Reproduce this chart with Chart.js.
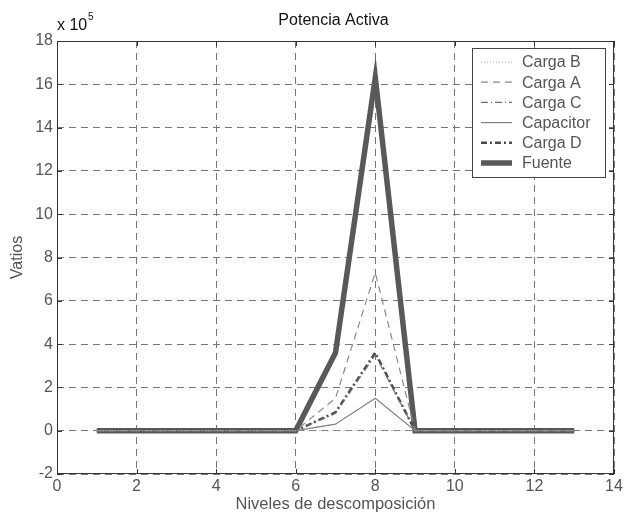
<!DOCTYPE html>
<html lang="es">
<head>
    <meta charset=utf-8>
    <title>Potencia Activa</title>
    <script src="https://cdn.jsdelivr.net/npm/chart.js@4.4.1/dist/chart.umd.min.js"></script>
    <style>
        body { margin: 0; background: #fff; }
        #chart { display: block; }
    </style>
</head>
<body>
<canvas id="chart" width="626" height="521"></canvas>
<script>
    // niveles de descomposicion (eje x), valores en unidades de 1e5 W
    var niveles = [1, 2, 3, 4, 5, 6, 7, 8, 9, 10, 11, 12, 13];
    var cargaB = [0, 0, 0, 0, 0, 0, 0, 0, 0, 0, 0, 0, 0];
    var cargaA = [0, 0, 0, 0, 0, 0, 1.5, 7.3, 0, 0, 0, 0, 0];
    var cargaC = [0, 0, 0, 0, 0, 0, 0.8, 3.5, 0, 0, 0, 0, 0];
    var capacitor = [0, 0, 0, 0, 0, 0, 0.3, 1.5, 0, 0, 0, 0, 0];
    var cargaD = [0, 0, 0, 0, 0, 0, 0.85, 3.6, 0, 0, 0, 0, 0];
    var fuente = [0, 0, 0, 0, 0, 0, 3.6, 16.3, 0, 0, 0, 0, 0];
    var xTicks = [0, 2, 4, 6, 8, 10, 12, 14];
    var yTicks = [-2, 0, 2, 4, 6, 8, 10, 12, 14, 16, 18];

    var FONT = '"Liberation Sans", Arial, sans-serif';

    function pts(values) {
        return niveles.map(function (x, i) { return {x: x, y: values[i]}; });
    }

    function serie(label, values, color, width, dash) {
        return {
            label: label,
            data: pts(values),
            borderColor: color,
            backgroundColor: color,
            borderWidth: width,
            borderDash: dash,
            pointRadius: 0,
            tension: 0,
            fill: false
        };
    }

    var extras = {
        id: 'extras',
        afterDraw: function (chart) {
            var ctx = chart.ctx;
            var a = chart.chartArea;
            var xs = chart.scales.x, ys = chart.scales.y;
            ctx.save();

            // caja
            ctx.strokeStyle = '#333';
            ctx.lineWidth = 1;
            ctx.setLineDash([]);
            ctx.strokeRect(a.left + 0.5, a.top + 0.5, a.right - a.left - 1, a.bottom - a.top - 1);

            // marcas interiores
            ctx.beginPath();
            xTicks.forEach(function (t) {
                var px = Math.round(xs.getPixelForValue(t)) + 0.5;
                ctx.moveTo(px, a.bottom); ctx.lineTo(px, a.bottom - 5);
                ctx.moveTo(px, a.top); ctx.lineTo(px, a.top + 5);
            });
            yTicks.forEach(function (t) {
                var py = Math.round(ys.getPixelForValue(t)) + 0.5;
                ctx.moveTo(a.left, py); ctx.lineTo(a.left + 5, py);
                ctx.moveTo(a.right, py); ctx.lineTo(a.right - 5, py);
            });
            ctx.stroke();

            // textos
            ctx.fillStyle = '#111';
            ctx.font = '16px ' + FONT;
            ctx.textAlign = 'center';
            ctx.textBaseline = 'middle';
            ctx.fillText('Potencia Activa', (a.left + a.right) / 2 - 2, 21);

            ctx.fillStyle = '#555';
            ctx.font = '16.5px ' + FONT;
            ctx.fillText('Niveles de descomposición', (a.left + a.right) / 2, 504);

            ctx.save();
            ctx.translate(18, (a.top + a.bottom) / 2);
            ctx.rotate(-Math.PI / 2);
            ctx.font = '16px ' + FONT;
            ctx.fillText('Vatios', 0, 0);
            ctx.restore();

            ctx.fillStyle = '#111';
            ctx.textAlign = 'left';
            ctx.font = '16px ' + FONT;
            ctx.fillText('x 10', 57, 26);
            ctx.font = '10px ' + FONT;
            ctx.fillText('5', 88, 17);

            // leyenda
            var lx = 472, ly = 48, lw = 133, lh = 129;
            ctx.fillStyle = '#fff';
            ctx.fillRect(lx, ly, lw, lh);
            ctx.strokeStyle = '#444';
            ctx.lineWidth = 1;
            ctx.strokeRect(lx + 0.5, ly + 0.5, lw, lh);
            ctx.font = '16px ' + FONT;
            ctx.textBaseline = 'middle';
            chart.data.datasets.forEach(function (ds, i) {
                var yy = 62 + i * 20.2;
                ctx.strokeStyle = ds.borderColor;
                ctx.lineWidth = ds.borderWidth;
                ctx.setLineDash(ds.borderDash || []);
                ctx.beginPath();
                ctx.moveTo(481, yy);
                ctx.lineTo(512, yy);
                ctx.stroke();
                ctx.setLineDash([]);
                ctx.fillStyle = '#555';
                ctx.fillText(ds.label, 522, yy + 1);
            });
            ctx.restore();
        }
    };

    new Chart(document.getElementById('chart'), {
        type: 'line',
        data: {
            datasets: [
                serie('Carga B', cargaB, '#b0b0b0', 1, [1, 2]),
                serie('Carga A', cargaA, '#8a8a8a', 1.2, [7, 5]),
                serie('Carga C', cargaC, '#707070', 1.2, [7, 3, 1, 3]),
                serie('Capacitor', capacitor, '#808080', 1.2, []),
                serie('Carga D', cargaD, '#4a4a4a', 2.5, [6, 3, 2, 3]),
                serie('Fuente', fuente, '#595959', 5.5, [])
            ]
        },
        plugins: [extras],
        options: {
            responsive: false,
            animation: false,
            layout: {padding: {top: 41, right: 12, left: 0, bottom: 0}},
            plugins: {legend: {display: false}, tooltip: {enabled: false}},
            scales: {
                x: {
                    type: 'linear',
                    min: 0, max: 14,
                    afterFit: function (s) { s.height = 47; },
                    afterBuildTicks: function (s) {
                        s.ticks = xTicks.map(function (v) { return {value: v}; });
                    },
                    grid: {color: '#777', drawTicks: false, lineWidth: 1},
                    border: {display: false, dash: [7, 5]},
                    ticks: {color: '#555', font: {size: 16, family: FONT}, padding: 3, maxRotation: 0}
                },
                y: {
                    min: -2, max: 18,
                    afterFit: function (s) { s.width = 57; },
                    afterBuildTicks: function (s) {
                        s.ticks = yTicks.map(function (v) { return {value: v}; });
                    },
                    grid: {color: '#777', drawTicks: false, lineWidth: 1},
                    border: {display: false, dash: [7, 5]},
                    ticks: {color: '#555', font: {size: 16, family: FONT}, padding: 4}
                }
            }
        }
    });
</script>
</body>
</html>
